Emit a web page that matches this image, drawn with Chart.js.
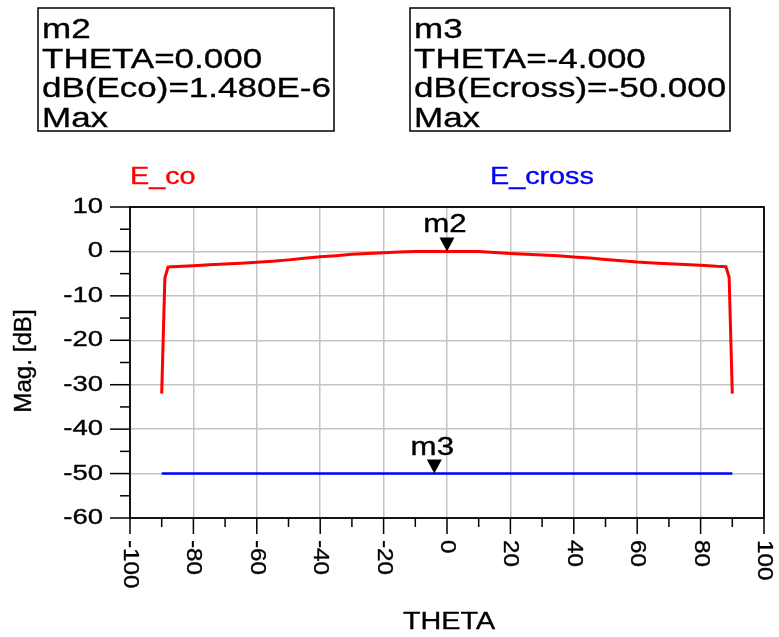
<!DOCTYPE html>
<html>
<head>
<meta charset="utf-8">
<script src="https://cdn.jsdelivr.net/npm/chart.js@4"></script>
<style>
  body { margin: 0; background: #fff; }
  #plot { display: block; }
</style>
</head>
<body>
<canvas id="plot" width="779" height="637"></canvas>
<script>
// co-pol / cross-pol radiation cut

const thetaCo = [-90, -89, -88, -85, -80, -75, -70, -65, -60, -55, -50, -45, -40, -35, -30, -25, -20, -15, -10, -5, 0,
                 5, 10, 15, 20, 25, 30, 35, 40, 45, 50, 55, 60, 65, 70, 75, 80, 85, 88, 89, 90];
const eCo = [-32, -6, -3.5, -3.4, -3.2, -3.0, -2.85, -2.65, -2.45, -2.2, -1.9, -1.55, -1.2, -0.95, -0.65, -0.45, -0.3, -0.15, 0, 0, 0,
             0, 0, -0.25, -0.45, -0.62, -0.8, -1.0, -1.26, -1.5, -1.8, -2.1, -2.4, -2.62, -2.78, -2.93, -3.1, -3.35, -3.45, -5.8, -32];

const thetaCross = [-90, -75, -60, -45, -30, -15, 0, 15, 30, 45, 60, 75, 90];
const eCross = [-50, -50, -50, -50, -50, -50, -50, -50, -50, -50, -50, -50, -50];

const markerNames = ["m2", "m3"];
const markerTheta = [0, -4];
const markerVal = [1.480e-6, -50];

const markerBoxes = [
    ["m2", "THETA=0.000", "dB(Eco)=1.480E-6", "Max"],
    ["m3", "THETA=-4.000", "dB(Ecross)=-50.000", "Max"]
];

const xTicks = [-100, -80, -60, -40, -20, 0, 20, 40, 60, 80, 100];
const yTicks = [10, 0, -10, -20, -30, -40, -50, -60];

const FONT = '"Liberation Sans", Arial, sans-serif';
const SX = 1.25;

// text with a horizontal stretch and a light outline so it reads heavier
function txt(ctx, s, x, y, size, align, base, rot, sx) {
    ctx.save();
    ctx.font = size + "px " + FONT;
    ctx.translate(x, y);
    if (rot) ctx.rotate(rot);
    ctx.scale(sx || SX, 1);
    ctx.textAlign = align;
    ctx.textBaseline = base;
    ctx.fillText(s, 0, 0);
    ctx.strokeStyle = ctx.fillStyle;
    ctx.lineWidth = 0.35;
    ctx.strokeText(s, 0, 0);
    ctx.restore();
}

const decorations = {
    id: "decorations",
    afterDraw(chart) {
        const ctx = chart.ctx;
        const xs = chart.scales.x, ys = chart.scales.y;
        const a = chart.chartArea;
        ctx.save();
        ctx.fillStyle = "#000";
        ctx.strokeStyle = "#000";

        // frame
        ctx.lineWidth = 1.8;
        ctx.strokeRect(a.left, a.top, a.right - a.left, a.bottom - a.top);

        // y ticks, major every 10, minor every 5
        ctx.lineWidth = 1.5;
        for (let v = -60; v <= 10; v += 5) {
            const py = ys.getPixelForValue(v);
            const len = v % 10 === 0 ? 20 : 10;
            ctx.beginPath();
            ctx.moveTo(a.left - len, py);
            ctx.lineTo(a.left, py);
            ctx.stroke();
        }
        yTicks.forEach(v => {
            txt(ctx, String(v), 103, ys.getPixelForValue(v), 22, "right", "middle");
        });

        // x ticks, major every 20, minor every 10
        for (let v = -100; v <= 100; v += 10) {
            const px = xs.getPixelForValue(v);
            const len = v % 20 === 0 ? 16 : 9;
            ctx.beginPath();
            ctx.moveTo(px, a.bottom);
            ctx.lineTo(px, a.bottom + len);
            ctx.stroke();
        }
        xTicks.forEach(v => {
            txt(ctx, String(v), xs.getPixelForValue(v), 540, 22, "left", "middle", Math.PI / 2, 1.1);
        });

        // axis titles
        txt(ctx, "Mag. [dB]", 25, 361, 23, "center", "middle", -Math.PI / 2, 1.05);
        txt(ctx, "THETA", 449, 629, 23, "center", "alphabetic");

        // trace names
        ctx.fillStyle = "#ff0000";
        txt(ctx, "E_co", 130, 184, 23, "left", "alphabetic");
        ctx.fillStyle = "#0000ff";
        txt(ctx, "E_cross", 490, 184, 23, "left", "alphabetic");

        // markers on the traces
        ctx.fillStyle = "#000";
        markerNames.forEach((name, i) => {
            const px = xs.getPixelForValue(markerTheta[i]);
            const py = ys.getPixelForValue(markerVal[i]);
            ctx.beginPath();
            ctx.moveTo(px, py);
            ctx.lineTo(px - 7.5, py - 14);
            ctx.lineTo(px + 7.5, py - 14);
            ctx.closePath();
            ctx.fill();
            txt(ctx, name, px - 2, py - 19, 25, "center", "alphabetic");
        });

        // marker readout boxes
        const boxX = [38, 410], boxW = [296, 320];
        markerBoxes.forEach((lines, i) => {
            ctx.strokeStyle = "#000";
            ctx.lineWidth = 1.5;
            ctx.strokeRect(boxX[i], 8, boxW[i], 123);
            lines.forEach((s, j) => {
                txt(ctx, s, boxX[i] + 4, 38 + j * 29.5, 28, "left", "alphabetic");
            });
        });
        ctx.restore();
    }
};

function pts(xv, yv) {
    return xv.map((x, i) => ({ x: x, y: yv[i] }));
}

let ctx = document.getElementById("plot");
let myChart = new Chart(ctx, {
    type: "line",
    data: {
        datasets: [{
            label: "E_co",
            data: pts(thetaCo, eCo),
            borderColor: "#ff0000",
            borderWidth: 3,
            pointRadius: 0,
            tension: 0
        }, {
            label: "E_cross",
            data: pts(thetaCross, eCross),
            borderColor: "#0000ff",
            borderWidth: 2.5,
            pointRadius: 0,
            tension: 0
        }]
    },
    options: {
        responsive: false,
        animation: false,
        layout: { padding: { left: 130, right: 15, top: 207, bottom: 119 } },
        plugins: { legend: { display: false }, tooltip: { enabled: false } },
        scales: {
            x: {
                type: "linear",
                min: -100, max: 100,
                ticks: { display: false, stepSize: 20 },
                grid: { color: "#c4c4c4", lineWidth: 1.5, drawTicks: false },
                border: { display: false },
                afterFit(s) { s.height = 0; }
            },
            y: {
                min: -60, max: 10,
                ticks: { display: false, stepSize: 10 },
                grid: { color: "#c4c4c4", lineWidth: 1.5, drawTicks: false },
                border: { display: false },
                afterFit(s) { s.width = 0; }
            }
        }
    },
    plugins: [decorations]
});
</script>
</body>
</html>
